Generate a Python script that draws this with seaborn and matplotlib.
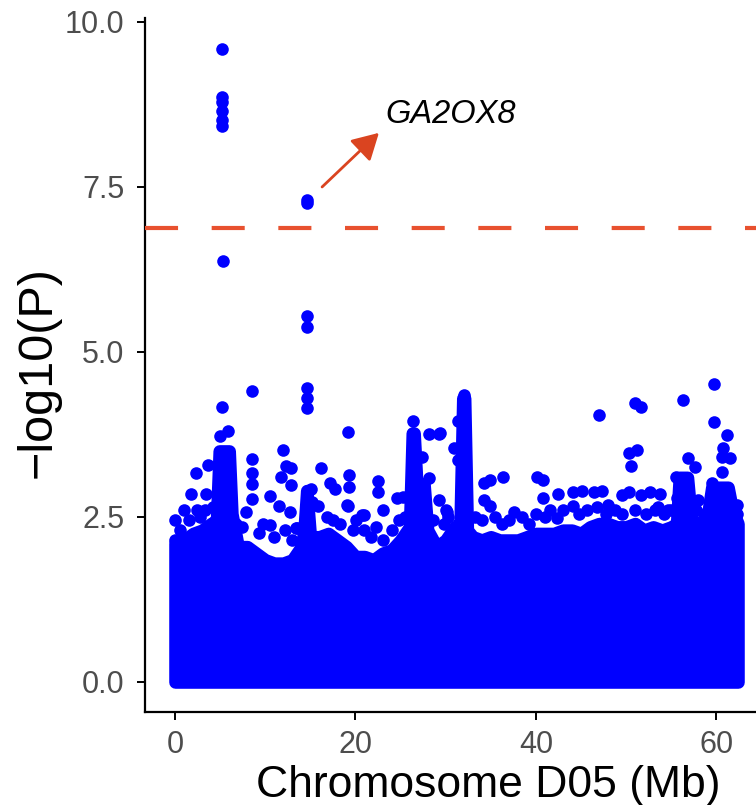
import matplotlib
matplotlib.use("Agg")
import matplotlib.pyplot as plt
import seaborn as sns
import pandas as pd

# ---- data ----
# upper envelope of the dense, fully-covered SNP band (position in Mb, -log10 P)
band_pos = [0, 1, 2, 3, 4, 4.6, 4.9, 6.0, 6.3, 7, 8, 9, 10, 11, 12, 13, 14, 14.3, 14.6,
            15, 16, 17, 18, 19, 20, 21, 22, 23, 24, 25, 26.0, 26.3, 26.5, 26.8, 27.6, 28.0,
            29, 30, 31, 31.6, 31.9, 32.1, 32.4, 33, 34, 35, 36, 37, 38, 39, 40, 41, 42,
            43, 44, 45, 46, 47, 48, 49, 50, 51, 52, 53, 54, 55, 55.6, 55.9, 56.8, 57.2,
            58, 59.0, 59.5, 61.3, 61.8, 62.4]
band_top = [2.1, 2.15, 2.25, 2.3, 2.4, 2.45, 3.5, 3.5, 2.55, 2.05, 2.05, 1.95, 1.85, 1.8,
            1.8, 1.85, 2.05, 2.3, 2.9, 2.2, 2.2, 2.25, 2.15, 2.05, 1.9, 1.9, 1.85, 1.95,
            2.0, 2.15, 2.35, 3.77, 3.77, 3.0, 3.0, 2.3, 2.05, 2.15, 2.35, 2.4, 4.3, 4.3,
            2.3, 2.2, 2.15, 2.2, 2.15, 2.15, 2.15, 2.2, 2.25, 2.25, 2.25, 2.3, 2.3, 2.25,
            2.35, 2.4, 2.4, 2.35, 2.35, 2.4, 2.3, 2.35, 2.3, 2.35, 2.4, 3.1, 3.1, 2.5,
            2.35, 2.5, 2.95, 2.95, 2.6, 2.4]

# individual SNPs standing out above the band
hit_pos = [5.2, 5.2, 5.2, 5.2, 5.2, 5.2, 14.6, 14.6, 5.3, 14.6, 14.6, 14.6, 14.6, 14.6,
           8.5, 5.17, 5.9, 5.0, 26.4, 26.4, 28.1, 29.3, 19.2, 12.0, 8.5, 3.7, 2.33, 1.74,
           0.0, 12.3, 12.9, 11.8, 12.9, 8.5, 8.5, 8.5, 10.5, 16.2, 15.1, 17.2, 17.7, 19.3,
           19.3, 19.2, 22.5, 22.5, 23.1, 24.6, 25.3, 30.9, 31.4, 31.4, 28.1, 29.3, 30.0,
           30.3, 20.7, 13.4, 14.0, 32.0, 29.4, 47.0, 51.0, 51.7, 50.3, 51.2, 50.5, 56.3,
           59.7, 59.7, 61.2, 60.7, 60.6, 61.5, 60.6, 56.9, 57.6, 55.5, 55.6, 59.5, 61.1,
           62.3, 62.3, 58.0, 36.4, 40.1, 40.8, 40.8, 42.5, 34.2, 34.9, 34.2, 34.9, 44.1,
           45.1, 46.4, 47.3, 44.1, 48.0, 49.5, 50.3, 51.6, 52.7, 53.8, 53.2, 54.7, 41.6,
           42.3, 37.6, 30.1, 26.4, 27.4, 3.4, 1.0, 2.4, 7.9, 13.5, 11.5, 12.7, 10.5, 15.2,
           15.9, 19.1, 20.1, 20.9, 21.0, 23.1, 0.0,
           0.5, 1.5, 2.8, 3.3, 4.2, 6.8, 7.4, 9.3, 9.8, 11.0, 12.2, 13.0, 16.8, 17.5, 18.3,
           19.7, 21.7, 22.3, 24.0, 24.8, 25.5, 28.6, 29.8, 33.3, 34.0, 35.5, 36.2, 37.0,
           38.5, 39.2, 40.0, 41.0, 43.0, 44.8, 45.7, 46.8, 47.8, 48.8, 49.6, 51.0, 52.2,
           53.5, 54.2, 55.0, 57.8, 58.6, 62.0]
hit_logp = [9.59, 8.86, 8.78, 8.65, 8.52, 8.43, 7.31, 7.26, 6.38, 5.55, 5.38, 4.46, 4.30, 4.15,
            4.41, 4.16, 3.81, 3.73, 3.96, 3.77, 3.75, 3.75, 3.78, 3.52, 3.38, 3.28, 3.16, 2.85,
            2.45, 3.27, 3.24, 3.11, 2.98, 3.17, 3.0, 2.77, 2.82, 3.24, 2.92, 3.01, 2.93, 3.14,
            2.96, 2.67, 3.05, 2.88, 2.6, 2.78, 2.8, 3.54, 3.95, 3.36, 3.09, 2.76, 2.6,
            2.5, 2.53, 2.33, 2.09, 4.35, 3.77, 4.05, 4.23, 4.16, 3.47, 3.52, 3.27, 4.27,
            4.52, 3.94, 3.74, 3.54, 3.41, 3.40, 3.18, 3.39, 3.26, 3.1, 2.78, 3.02, 2.93,
            2.68, 2.55, 2.76, 3.11, 3.11, 3.06, 2.78, 2.85, 3.02, 3.06, 2.76, 2.66, 2.88,
            2.90, 2.88, 2.9, 2.66, 2.68, 2.83, 2.88, 2.83, 2.88, 2.85, 2.6, 2.6, 2.6,
            2.48, 2.57, 2.58, 3.59, 3.41, 2.85, 2.6, 2.6, 2.58, 2.34, 2.66, 2.58, 2.38, 2.73,
            2.66, 2.68, 2.45, 2.53, 2.3, 2.15, 2.15,
            2.3, 2.45, 2.5, 2.6, 2.65, 2.4, 2.35, 2.25, 2.4, 2.2, 2.3, 2.15, 2.5, 2.45, 2.4,
            2.3, 2.2, 2.35, 2.3, 2.45, 2.5, 2.45, 2.4, 2.5, 2.45, 2.5, 2.4, 2.45,
            2.5, 2.4, 2.55, 2.5, 2.6, 2.55, 2.6, 2.65, 2.55, 2.6, 2.55, 2.6, 2.55,
            2.65, 2.55, 2.6, 2.6, 2.55, 2.5]

threshold = 6.88
gene_label = "GA2OX8"
arrow_start = (16.3, 7.5)
arrow_end = (22.6, 8.32)
y_ticks = [0.0, 2.5, 5.0, 7.5, 10.0]
x_ticks = [0, 20, 40, 60]

assert len(band_pos) == len(band_top)
assert len(hit_pos) == len(hit_logp)

BLUE = "#0000FF"

sns.set_theme(style="ticks")
plt.rcParams['font.family'] = ['Liberation Sans', 'DejaVu Sans']
plt.rcParams['lines.scale_dashes'] = False

fig = plt.figure(figsize=(7.56, 8.05), dpi=100)
ax = fig.add_axes([145 / 756, 1 - 712 / 805, 1 - 145 / 756, (712 - 18) / 805])

# dense band: envelope fill, dilated by a marker radius via a round-joined edge
ax.fill_between(band_pos, 0, band_top, facecolor=BLUE, edgecolor=BLUE,
                linewidth=9.1, joinstyle='round', zorder=2)

df = pd.DataFrame({"pos": hit_pos, "logp": hit_logp})
sns.scatterplot(data=df, x="pos", y="logp", color=BLUE, s=82, linewidth=0,
                ax=ax, zorder=3, legend=False)

ax.axhline(threshold, color="#E8512F", lw=3.0, linestyle=(0, (23.8, 24.2)), zorder=4)

ax.annotate("", xy=arrow_end, xytext=arrow_start,
            arrowprops=dict(arrowstyle="-|>,head_length=0.8,head_width=0.45",
                            color="#DA4420", lw=2.0, mutation_scale=20,
                            shrinkA=0, shrinkB=0), zorder=5)
ax.text(23.3, 8.6, gene_label, fontsize=23.5, fontstyle="italic", color="black",
        ha="left", va="center")

ax.set_xlim(-3.33, 64.4)
ax.set_ylim(-0.455, 10.06)
ax.set_xticks(x_ticks)
ax.set_xticklabels([str(t) for t in x_ticks])
ax.set_yticks(y_ticks)
ax.set_yticklabels([f"{t:.1f}" for t in y_ticks])

sns.despine(ax=ax)
for s in ["left", "bottom"]:
    ax.spines[s].set_linewidth(1.6)
    ax.spines[s].set_color("black")
ax.tick_params(axis="both", length=6, width=1.4, color="black",
               labelsize=22, labelcolor="#4D4D4D")
ax.tick_params(axis="y", pad=9)
ax.tick_params(axis="x", pad=7)

ax.set_xlabel("Chromosome D05 (Mb)", fontsize=32, color="black", va="center")
ax.xaxis.set_label_coords((488 - 145) / 611, (712 - 785) / 694)
ax.set_ylabel("\u2212log10(P)", fontsize=35, color="black", va="center")
ax.yaxis.set_label_coords((38 - 145) / 611, (712 - 372) / 694)

fig.savefig("out.png", dpi=100)
